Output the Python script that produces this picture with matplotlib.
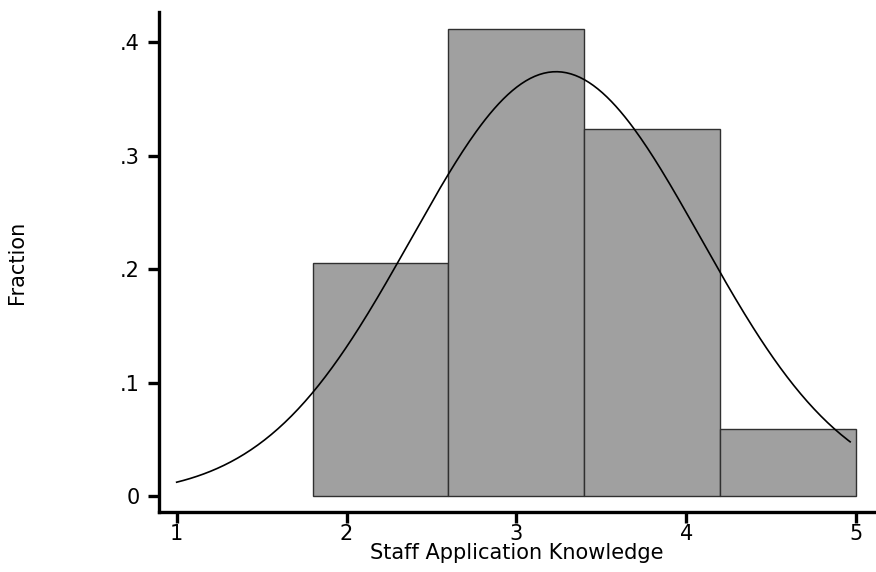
import numpy as np
import matplotlib.pyplot as plt

plt.rcParams['font.family'] = ['DejaVu Sans']

# histogram bins (fraction of respondents)
bin_edges = [1.8, 2.6, 3.4, 4.2, 5.0]
fractions = [7 / 34, 14 / 34, 11 / 34, 2 / 34]

# fitted normal curve, scaled by bin width
mu, sigma = 3.234, 0.853
curve_range = (1.0, 4.965)

xticks = [1, 2, 3, 4, 5]
yticks = [0, 0.1, 0.2, 0.3, 0.4]
ytick_labels = ['0', '.1', '.2', '.3', '.4']

fig = plt.figure(figsize=(8.76, 5.72), dpi=100)
ax = fig.add_axes([0.1815, 0.105, 0.8175, 0.874])

widths = np.diff(bin_edges)
ax.bar(bin_edges[:-1], fractions, width=widths, align='edge',
       color='#a0a0a0', edgecolor='#303030', linewidth=1.0)

bw = widths[0]
xs = np.linspace(curve_range[0], curve_range[1], 300)
ys = bw * np.exp(-0.5 * ((xs - mu) / sigma) ** 2) / (sigma * np.sqrt(2 * np.pi))
ax.plot(xs, ys, color='black', linewidth=1.2)

ax.set_xlim(0.896, 5.112)
ax.set_ylim(-0.0141, 0.4268)

ax.set_xticks(xticks)
ax.set_xticklabels([str(t) for t in xticks])
ax.set_yticks(yticks)
ax.set_yticklabels(ytick_labels)

for side in ['top', 'right']:
    ax.spines[side].set_visible(False)
for side in ['left', 'bottom']:
    ax.spines[side].set_linewidth(2.4)
ax.tick_params(axis='both', length=8, width=2.4, labelsize=15, direction='out')
ax.tick_params(axis='y', pad=6)
ax.tick_params(axis='x', pad=1)

ax.set_xlabel('Staff Application Knowledge', fontsize=15, labelpad=-1)
ax.set_ylabel('Fraction', fontsize=15, labelpad=0)
ax.yaxis.set_label_coords(-0.185, 0.5)

fig.savefig('out.png', dpi=100)
